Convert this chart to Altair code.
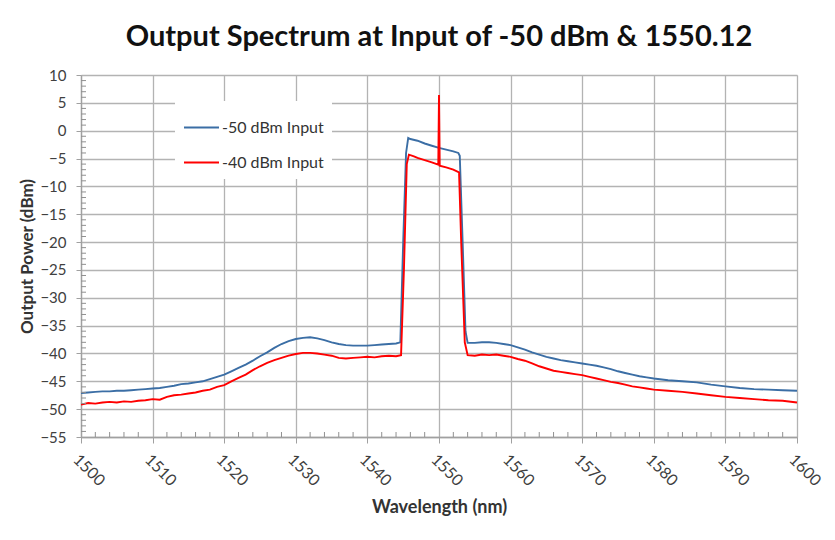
import altair as alt
import pandas as pd

# -50 dBm input (blue)
blue_wl = [1500, 1501, 1502, 1503, 1504, 1505, 1506, 1507, 1508, 1509, 1510, 1511, 1512, 1513, 1514,
           1515, 1516, 1517, 1518, 1519, 1520, 1521, 1522, 1523, 1524, 1525, 1526, 1527, 1528, 1529,
           1530, 1531, 1532, 1533, 1534, 1535, 1536, 1537, 1538, 1539, 1540, 1541, 1542, 1543, 1544,
           1544.6, 1545.0, 1545.4, 1545.7, 1546, 1547, 1548, 1549, 1550, 1551, 1552, 1552.7, 1552.9,
           1553.3, 1553.7, 1554, 1555, 1556, 1557, 1558, 1559, 1560, 1561, 1562, 1563, 1564, 1565,
           1566, 1567, 1568, 1569, 1570, 1571, 1572, 1573, 1574, 1575, 1576, 1577, 1578, 1579, 1580,
           1582, 1584, 1586, 1588, 1590, 1592, 1594, 1596, 1598, 1600]
blue_db = [-47.1, -47.0, -46.9, -46.8, -46.8, -46.7, -46.7, -46.6, -46.5, -46.4, -46.3, -46.2, -46.0,
           -45.8, -45.5, -45.4, -45.2, -45.0, -44.6, -44.2, -43.8, -43.2, -42.6, -42.0, -41.3, -40.5,
           -39.8, -39.0, -38.3, -37.8, -37.4, -37.2, -37.1, -37.3, -37.6, -38.0, -38.3, -38.5, -38.6,
           -38.6, -38.6, -38.5, -38.4, -38.3, -38.2, -38.0, -20.0, -4.0, -1.3, -1.5, -1.8, -2.3, -2.7,
           -3.1, -3.4, -3.7, -4.0, -4.5, -20.0, -36.0, -38.1, -38.1, -38.0, -38.0, -38.1, -38.3, -38.5,
           -38.9, -39.3, -39.8, -40.2, -40.6, -40.9, -41.2, -41.4, -41.6, -41.8, -42.0, -42.2, -42.5,
           -42.8, -43.2, -43.5, -43.8, -44.1, -44.3, -44.5, -44.8, -45.0, -45.2, -45.6, -45.9, -46.2,
           -46.4, -46.5, -46.6, -46.7]

# -40 dBm input (red)
red_wl = [1500, 1501, 1502, 1503, 1504, 1505, 1506, 1507, 1508, 1509, 1510, 1511, 1512, 1513, 1514,
          1515, 1516, 1517, 1518, 1519, 1520, 1521, 1522, 1523, 1524, 1525, 1526, 1527, 1528, 1529,
          1530, 1531, 1532, 1533, 1534, 1535, 1536, 1537, 1538, 1539, 1540, 1541, 1542, 1543, 1544,
          1544.7, 1545.1, 1545.5, 1545.8, 1546.5, 1547, 1548, 1549, 1549.9, 1550.0, 1550.1, 1551, 1552,
          1552.8, 1553.1, 1553.6, 1554, 1555, 1556, 1557, 1558, 1559, 1560, 1561, 1562, 1563, 1564,
          1565, 1566, 1567, 1568, 1569, 1570, 1571, 1572, 1573, 1574, 1575, 1576, 1577, 1578, 1579,
          1580, 1582, 1584, 1586, 1588, 1590, 1592, 1594, 1596, 1598, 1600]
red_db = [-49.2, -48.9, -49.0, -48.8, -48.7, -48.8, -48.6, -48.7, -48.5, -48.4, -48.2, -48.3, -47.8,
          -47.5, -47.4, -47.2, -47.0, -46.7, -46.5, -46.0, -45.7, -45.0, -44.4, -43.8, -43.0, -42.3,
          -41.7, -41.2, -40.8, -40.4, -40.1, -39.9, -39.9, -40.0, -40.2, -40.4, -40.8, -40.9, -40.8,
          -40.7, -40.6, -40.7, -40.5, -40.4, -40.5, -40.3, -25.0, -6.0, -4.3, -4.6, -4.9, -5.3, -5.7,
          -6.1, 6.4, -6.3, -6.6, -7.0, -7.5, -20.0, -38.0, -40.3, -40.4, -40.2, -40.3, -40.2, -40.4,
          -40.6, -41.0, -41.3, -41.8, -42.3, -42.7, -43.1, -43.3, -43.5, -43.7, -43.9, -44.2, -44.5,
          -44.8, -45.1, -45.3, -45.6, -45.9, -46.1, -46.3, -46.5, -46.7, -46.9, -47.2, -47.5, -47.8,
          -48.0, -48.2, -48.4, -48.5, -48.8]

series_names = ["-50 dBm Input", "-40 dBm Input"]
series_colors = ["#3b6ea5", "#ff0000"]
x_ticks = list(range(1500, 1601, 10))
y_ticks = list(range(-55, 11, 5))
x_minor = [v for v in range(1500, 1601, 2) if v % 10 != 0]
y_minor = [v for v in range(-55, 11) if v % 5 != 0]

FONT = "Lato"
W, H = 716, 362

df_blue = pd.DataFrame({"wl": blue_wl, "db": blue_db, "series": series_names[0]})
df_red = pd.DataFrame({"wl": red_wl, "db": red_db, "series": series_names[1]})

xscale = alt.Scale(domain=[1500, 1600], nice=False, zero=False)
yscale = alt.Scale(domain=[-55, 10], nice=False, zero=False)
color = alt.Color("series:N", scale=alt.Scale(domain=series_names, range=series_colors),
                  legend=alt.Legend(title=None, orient="none", legendX=94, legendY=26,
                                    symbolType="stroke", symbolSize=1225, symbolStrokeWidth=2,
                                    labelFontSize=16, labelFont=FONT, labelColor="#333333",
                                    rowPadding=8, padding=8, fillColor="white",
                                    labelOffset=2))

xaxis = alt.Axis(values=x_ticks, format="d", labelOverlap=False, labelAngle=45,
                 labelFontSize=16, labelFont=FONT,
                 labelColor="#404040", title="Wavelength (nm)", titleFontSize=18,
                 titleFont=FONT, titleFontWeight="bold", titleColor="#333333",
                 gridColor="#b3b3b3", gridWidth=1.3, domainColor="#a0a0a0", domainWidth=1.3,
                 tickColor="#a0a0a0", tickSize=6, labelPadding=8, titlePadding=10)
yaxis = alt.Axis(values=y_ticks, format="d", labelOverlap=False, labelFontSize=15,
                 labelFont=FONT, labelColor="#404040",
                 title="Output Power (dBm)", titleFontSize=17, titleFont=FONT,
                 titleFontWeight="bold", titleColor="#333333", gridColor="#b3b3b3",
                 gridWidth=1.3, domainColor="#a0a0a0", domainWidth=1.3, tickColor="#a0a0a0",
                 tickSize=5, labelPadding=10, titlePadding=3)

blue = alt.Chart(df_blue).mark_line(strokeWidth=1.9).encode(
    x=alt.X("wl:Q", scale=xscale, axis=xaxis),
    y=alt.Y("db:Q", scale=yscale, axis=yaxis),
    color=color,
)
red = alt.Chart(df_red).mark_line(strokeWidth=1.9).encode(
    x=alt.X("wl:Q", scale=xscale, axis=xaxis),
    y=alt.Y("db:Q", scale=yscale, axis=yaxis),
    color=color,
)

xm = alt.Chart(pd.DataFrame({"v": x_minor})).mark_rule(color="#909090", strokeWidth=1).encode(
    x=alt.X("v:Q", scale=xscale, axis=xaxis), y=alt.value(H), y2=alt.value(H - 5))
ym = alt.Chart(pd.DataFrame({"v": y_minor})).mark_rule(color="#909090", strokeWidth=1).encode(
    y=alt.Y("v:Q", scale=yscale, axis=yaxis), x=alt.value(0), x2=alt.value(5))

chart = alt.layer(blue, red, xm, ym).properties(
    width=W, height=H,
    title=alt.TitleParams("Output Spectrum at Input of -50 dBm & 1550.12", fontSize=29,
                          font=FONT, fontWeight="bold", color="#111111", offset=16,
                          anchor="middle"),
    autosize=alt.AutoSizeParams(type="none"),
    padding={"left": 73, "top": 67, "right": 30, "bottom": 95},
).configure_view(stroke=None).configure(background="white")

chart.save("out.html", embed_options={"renderer": "svg", "actions": False})
